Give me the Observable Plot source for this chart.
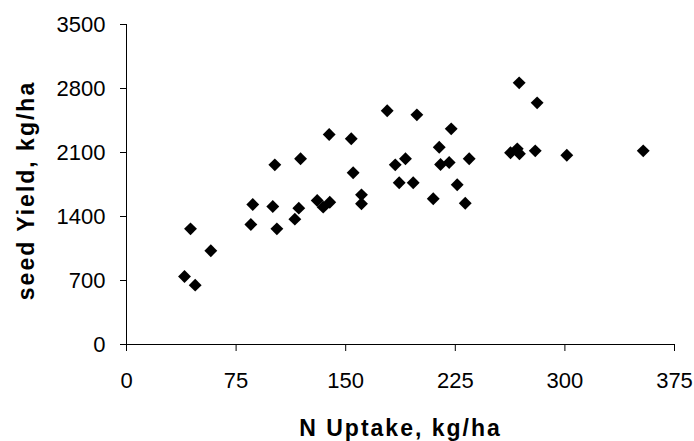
<!DOCTYPE html>
<html><head><meta charset="utf-8">
<script src="https://cdn.jsdelivr.net/npm/d3@7"></script>
<script src="https://cdn.jsdelivr.net/npm/@observablehq/plot@0.6"></script>
<style>
body{margin:0;background:#fff}
</style></head><body><div id="chart"></div>
<script>
const nUptake = [43.8, 57.7, 39.7, 47.0, 85.1, 86.4, 100.1, 102.9, 101.5, 119.1, 117.9, 115.2, 130.5, 134.6, 139.1, 138.7, 153.8, 155.1, 160.8, 160.8, 178.4, 198.7, 183.9, 190.9, 186.6, 196.2, 209.9, 222.2, 214.0, 214.9, 220.8, 234.5, 226.3, 231.8, 268.7, 281.0, 262.8, 267.4, 268.9, 279.7, 301.3, 353.6];
const seedYield = [1265, 1025, 744, 649, 1312, 1531, 1509, 1265, 1965, 2031, 1491, 1371, 1575, 1502, 1556, 2297, 2250, 1878, 1637, 1539, 2556, 2512, 1965, 2031, 1769, 1769, 1594, 2359, 2158, 1969, 1991, 2031, 1747, 1545, 2862, 2643, 2097, 2140, 2086, 2118, 2070, 2118];
const xTicks = [0, 75, 150, 225, 300, 375];
const yTicks = [0, 700, 1400, 2100, 2800, 3500];
const xTitle = "N Uptake, kg/ha";
const yTitle = "seed Yield, kg/ha";

const data = nUptake.map((x, i) => ({x, y: seedYield[i]}));
const font = "'Liberation Sans', Arial, sans-serif";
const chart = Plot.plot({
  width: 694, height: 441,
  marginLeft: 126, marginRight: 20, marginTop: 24, marginBottom: 97,
  style: {fontFamily: font, fontSize: "22px", background: "#fff", color: "#000", overflow: "visible"},
  x: {domain: [0, 375]},
  y: {domain: [0, 3500]},
  marks: [
    Plot.axisX({ticks: xTicks, tickFormat: d => String(d), tickSize: 7, tickPadding: 21, label: null, stroke: "#000", fontSize: 22}),
    Plot.axisY({ticks: yTicks, tickFormat: d => String(d), tickSize: 6, tickPadding: 15, label: null, stroke: "#000", fontSize: 22}),
    Plot.ruleY([0], {stroke: "#000"}),
    Plot.ruleX([0], {stroke: "#000"}),
    Plot.dot(data, {x: "x", y: "y", symbol: "diamond2", r: 5.8, fill: "#000", stroke: "none"}),
    Plot.text([xTitle], {text: d => d, frameAnchor: "bottom", textAnchor: "middle", lineAnchor: "middle", dy: 84, fontSize: 23, fontWeight: "bold", fill: "#000"}),
    Plot.text([yTitle], {text: d => d, frameAnchor: "left", textAnchor: "middle", lineAnchor: "middle", dx: -100, dy: 6, rotate: -90, fontSize: 23, fontWeight: "bold", fill: "#000"})
  ]
});
chart.querySelectorAll("text").forEach(t => {
  if (t.textContent === xTitle || t.textContent === yTitle) t.style.letterSpacing = "2px";
});
document.getElementById("chart").appendChild(chart);
</script>
</body></html>
